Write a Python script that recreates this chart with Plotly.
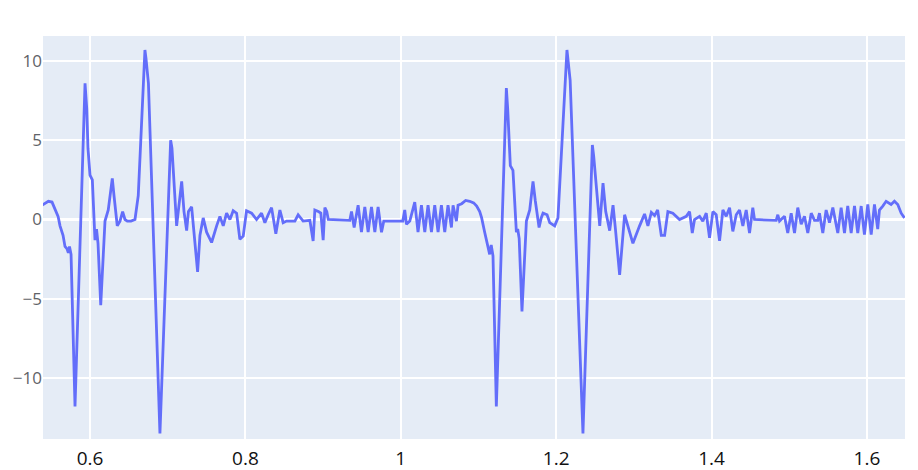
import plotly.graph_objects as go

# First beat (time in s, amplitude)
t_beat1 = [0.538, 0.5464, 0.5511, 0.555, 0.5589, 0.5614, 0.5653, 0.5678, 0.5704, 0.5721,
           0.5736, 0.5756, 0.5807, 0.5936, 0.5958, 0.5974, 0.6, 0.603, 0.6064, 0.6084,
           0.6103, 0.6138, 0.6193, 0.6235, 0.6287, 0.6309, 0.6351, 0.6386, 0.642, 0.645,
           0.648, 0.6527, 0.6579, 0.6621,
           0.6707, 0.672, 0.6737, 0.6752, 0.69, 0.7038, 0.7055, 0.7115, 0.718, 0.721,
           0.7244, 0.7267, 0.7308, 0.7331, 0.7385, 0.7415, 0.7457,
           0.7501, 0.7565, 0.763, 0.7672, 0.7715, 0.7758, 0.7801, 0.7843, 0.7887, 0.7929,
           0.7972, 0.8015, 0.808, 0.8144, 0.8208, 0.8251, 0.8293, 0.8337, 0.8392, 0.8444,
           0.8486, 0.853, 0.8637, 0.8679, 0.8743, 0.883,
           0.8872, 0.8894, 0.8939, 0.8971, 0.9001, 0.9023, 0.9048, 0.9067, 0.9344, 0.9366,
           0.94, 0.9451, 0.9494, 0.9537, 0.958, 0.9623, 0.9666, 0.9708, 0.9752, 0.9781,
           1.0026, 1.0051, 1.0073, 1.0116, 1.018, 1.0222, 1.0266, 1.0309, 1.0351, 1.0395,
           1.0437, 1.048, 1.0523, 1.0566, 1.0608, 1.0652, 1.0673, 1.0716, 1.0737]
v_beat1 = [0.9, 1.15, 1.1, 0.65, 0.2, -0.4, -1.0, -1.7, -1.85, -2.1,
           -1.7, -2.2, -11.8, 8.6, 7.0, 4.5, 2.8, 2.5, -1.3, -0.6,
           -1.5, -5.4, -0.1, 0.6, 2.6, 1.5, -0.4, -0.1, 0.5, 0.0,
           -0.1, -0.1, 0.0, 1.5,
           10.7, 10.2, 9.0, 8.6, -13.5, 5.0, 4.5, -0.4, 2.4, 0.5,
           -0.7, 0.5, 0.8, -0.4, -3.3, -1.0, 0.1,
           -0.8, -1.45, -0.4, 0.2, -0.4, 0.4, 0.0, 0.55, 0.4, -1.25,
           -1.05, 0.55, 0.4, 0.0, 0.4, -0.2, 0.3, 0.75, -0.9, 0.6,
           -0.2, -0.1, -0.1, 0.3, -0.1, -0.05,
           -1.35, 0.6, 0.5, 0.4, -1.3, 0.75, 0.5, 0.0, -0.05, 0.5,
           -0.5, 0.9, -0.8, 0.8, -0.8, 0.8, -0.8, 0.8, -0.8, -0.1,
           -0.1, 0.6, -0.3, -0.1, 1.1, -0.8, 0.9, -0.8, 0.9, -0.8,
           0.9, -0.8, 0.9, -0.8, 0.9, -0.5, 0.9, -0.1, 0.9]

# Second beat
t_beat2 = [1.0784, 1.0835, 1.0887, 1.0938, 1.0977, 1.1016, 1.1041, 1.108, 1.1106, 1.1125,
           1.1144, 1.1164, 1.1187, 1.123, 1.1359, 1.1376, 1.141, 1.1444, 1.1488, 1.1505,
           1.1524, 1.156, 1.1617, 1.166, 1.1702, 1.1731, 1.178, 1.1808, 1.1831, 1.1883,
           1.1917, 1.1981, 1.2023,
           1.2139, 1.2154, 1.2165, 1.218, 1.2345, 1.2466, 1.2483, 1.2561, 1.2603, 1.2638,
           1.2689, 1.2732, 1.2763, 1.2817, 1.2881, 1.2933, 1.2988, 1.3074, 1.3138, 1.3181,
           1.3225, 1.3267, 1.3306, 1.3353, 1.3396, 1.3438, 1.3502, 1.3588, 1.3675, 1.3717,
           1.3752, 1.3781, 1.3846, 1.3888, 1.3932, 1.3974, 1.4017, 1.406, 1.4103, 1.4146,
           1.4189, 1.4232, 1.4274, 1.4318, 1.436, 1.4403, 1.4446, 1.4489, 1.4531, 1.4553,
           1.4832, 1.4853,
           1.4875, 1.4939, 1.4981, 1.5025, 1.5068, 1.511, 1.5154, 1.5196, 1.5239, 1.5283,
           1.5325, 1.5367, 1.5389, 1.5432, 1.5475, 1.5518, 1.5561, 1.5625, 1.5668, 1.5711,
           1.5753, 1.5797, 1.584, 1.5882, 1.5926, 1.5968, 1.6011, 1.6055, 1.6097, 1.6139,
           1.6161, 1.6204, 1.6247, 1.6311, 1.6354, 1.6397, 1.6441, 1.6483]
v_beat2 = [1.0, 1.2, 1.15, 1.05, 0.85, 0.5, 0.1, -0.8, -1.3, -1.7,
           -2.2, -1.6, -2.3, -11.8, 8.3, 7.0, 3.4, 3.1, -0.8, -0.6,
           -1.2, -5.8, -0.1, 0.6, 2.4, 1.2, -0.5, 0.1, 0.4, 0.3,
           -0.2, -0.4, 0.1,
           10.7, 10.0, 9.2, 8.8, -13.5, 4.7, 4.0, -0.4, 2.3, 0.5,
           -0.7, 0.9, -0.6, -3.5, 0.3, -0.6, -1.5, -0.4, 0.35, -0.4,
           0.45, 0.25, 0.6, -1.0, -1.0, 0.5, 0.4, 0.0, 0.2, 0.5,
           -0.85, 0.0, 0.2, -0.1, 0.4, -1.15, 0.5, 0.3, -1.35, 0.6,
           0.2, 0.75, -0.75, 0.3, 0.6, -0.4, 0.6, -0.85, 0.75, 0.0,
           -0.05, 0.3,
           -0.1, 0.2, -0.85, 0.4, -0.85, 0.75, -0.3, 0.2, -0.85, 0.4,
           -0.05, -0.05, 0.4, -0.85, 0.6, -0.2, 0.75, -0.85, 0.75, -0.85,
           0.85, -0.85, 0.85, -0.85, 0.85, -0.95, 0.95, -0.95, 0.95, -0.6,
           0.6, 0.85, 1.15, 0.95, 1.15, 0.95, 0.4, 0.1]

x_vals = t_beat1 + t_beat2
y_vals = v_beat1 + v_beat2

x_ticks = [0.6, 0.8, 1, 1.2, 1.4, 1.6]
x_tick_text = ["0.6", "0.8", "1", "1.2", "1.4", "1.6"]
y_ticks = [-10, -5, 0, 5, 10]
y_tick_text = ["\u221210", "\u22125", "0", "5", "10"]

fig = go.Figure()
fig.add_trace(go.Scatter(x=x_vals, y=y_vals, mode="lines",
                         line=dict(color="#636efa", width=2.8), showlegend=False))

fig.update_layout(
    width=918, height=470,
    margin=dict(l=35, r=21, t=28, b=39, autoexpand=False),
    paper_bgcolor="white",
    plot_bgcolor="#E5ECF6",
    font=dict(family="Open Sans, sans-serif"),
    xaxis=dict(range=[0.5395, 1.649], tickvals=x_ticks, ticktext=x_tick_text,
               showgrid=True, gridcolor="white", gridwidth=1.5, zeroline=False,
               tickfont=dict(size=19, color="#111111"), showline=False,
               ticks="outside", ticklen=2, tickcolor="rgba(0,0,0,0)"),
    yaxis=dict(range=[-13.85, 11.58], tickvals=y_ticks, ticktext=y_tick_text,
               showgrid=True, gridcolor="white", gridwidth=1.5, zeroline=True,
               zerolinecolor="white", zerolinewidth=2.5,
               tickfont=dict(size=17, color="#5f6368"), showline=False,
               automargin=False),
)

fig.write_html("out.html")
